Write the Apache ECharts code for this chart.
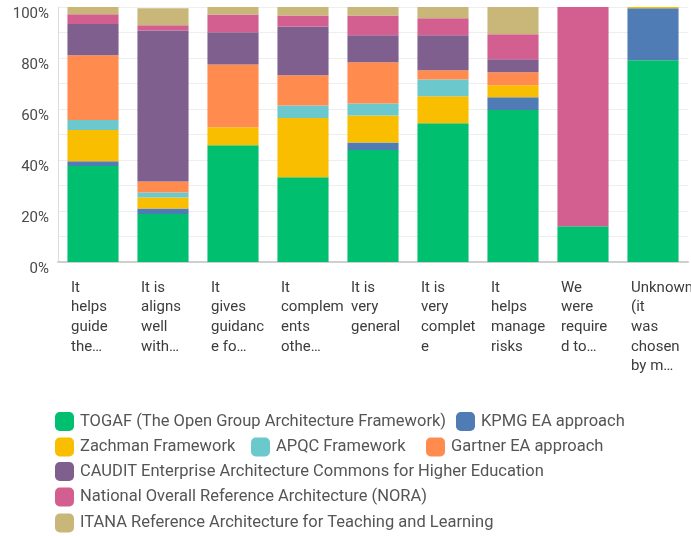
<!DOCTYPE html>
<html lang="en">
<head>
    <meta charset="UTF-8">
    <title>Chart</title>
    <script src="https://cdn.jsdelivr.net/npm/echarts@6/dist/echarts.min.js"></script>
    <style>
        html, body { margin: 0; padding: 0; background: #fff; }
    </style>
</head>
<body>
<div id="main" style="width: 691px;height:536px;"></div>
<script>
    var FONT = 'Roboto, sans-serif';

    var categories = [
        'It\nhelps\nguide\nthe…',
        'It is\naligns\nwell\nwith…',
        'It\ngives\nguidanc\ne fo…',
        'It\ncomplem\nents\nothe…',
        'It is\nvery\ngeneral',
        'It is\nvery\ncomplet\ne',
        'It\nhelps\nmanage\nrisks',
        'We\nwere\nrequire\nd to…',
        'Unknown\n(it\nwas\nchosen\nby m…'
    ];

    var seriesNames = [
        'TOGAF (The Open Group Architecture Framework)',
        'KPMG EA approach',
        'Zachman Framework',
        'APQC Framework',
        'Gartner EA approach',
        'CAUDIT Enterprise Architecture Commons for Higher Education',
        'National Overall Reference Architecture (NORA)',
        'ITANA Reference Architecture for Teaching and Learning'
    ];

    var colors = ['#00BF6F', '#507CB6', '#F9BE00', '#6BC8CD', '#FF8B4F', '#7F5F8E', '#D25F90', '#C9B77A'];

    var togaf   = [37.6, 18.8, 45.8, 33.2, 43.9, 54.4, 59.6, 14.0, 79.1];
    var kpmg    = [1.9, 2.2, 0, 0, 3.0, 0, 5.0, 0, 20.4];
    var zachman = [12.3, 4.3, 7.0, 23.3, 10.6, 10.6, 4.7, 0, 0.5];
    var apqc    = [3.9, 2.0, 0, 4.9, 4.7, 6.6, 0, 0, 0];
    var gartner = [25.4, 4.3, 24.7, 11.8, 16.1, 3.6, 5.1, 0, 0];
    var caudit  = [12.2, 59.2, 12.6, 19.2, 10.6, 13.7, 5.1, 0, 0];
    var nora    = [3.9, 2.0, 7.0, 4.3, 7.8, 6.7, 9.8, 86.0, 0];
    var itana   = [2.8, 6.7, 2.9, 3.3, 3.3, 4.4, 10.7, 0, 0];

    var values = [togaf, kpmg, zachman, apqc, gartner, caudit, nora, itana];

    // where each legend entry sits: [left, row]
    var legendPos = [[55, 0], [456, 0], [55, 1], [251, 1], [426, 1], [55, 2], [55, 3], [55, 4]];
    var legendRowTop = [412, 437.5, 462, 487.5, 513.5];

    var series = [];
    var legends = [];
    for (var i = 0; i < seriesNames.length; i++) {
        series.push({
            name: seriesNames[i],
            type: 'bar',
            stack: 'total',
            barCategoryGap: '27%',
            itemStyle: { color: colors[i] },
            emphasis: { disabled: true },
            data: values[i]
        });
        legends.push({
            data: [seriesNames[i]],
            left: legendPos[i][0],
            top: legendRowTop[legendPos[i][1]],
            padding: 0,
            itemWidth: 19,
            itemHeight: 19,
            icon: 'roundRect',
            textStyle: { fontFamily: FONT, fontSize: 16.5, color: '#555', padding: [0, 0, 0, 1] }
        });
    }

    var myChart = echarts.init(document.getElementById('main'));
    var option = {
        animation: false,
        legend: legends,
        grid: {
            left: 58,
            right: 3,
            top: 7,
            bottom: 274,
            containLabel: false,
            outerBoundsMode: 'none'
        },
        xAxis: {
            type: 'category',
            data: categories,
            axisTick: { show: false },
            axisLine: { lineStyle: { color: '#cfcfcf', width: 2 } },
            axisLabel: {
                interval: 0,
                margin: 16,
                fontFamily: FONT,
                fontSize: 15,
                color: '#3c3c3c',
                formatter: function (v) {
                    return v.split('\n').map(function (s) { return '{a|' + s + '}'; }).join('\n');
                },
                rich: {
                    a: { width: 44, align: 'left', lineHeight: 19.7, fontFamily: FONT, fontSize: 15, color: '#3c3c3c' }
                }
            }
        },
        yAxis: {
            type: 'value',
            min: 0,
            max: 100,
            interval: 10,
            axisLine: { show: true, lineStyle: { color: '#dcdcdc', width: 1 } },
            axisTick: { show: false },
            splitLine: { lineStyle: { color: '#eeeeee', width: 1 } },
            axisLabel: {
                margin: 9,
                verticalAlign: 'top',
                fontFamily: FONT,
                fontSize: 15,
                color: '#4a4a4a',
                formatter: function (v) {
                    return v % 20 === 0 ? v + '%' : '';
                }
            }
        },
        series: series
    };
    myChart.setOption(option);
</script>
</body>
</html>
